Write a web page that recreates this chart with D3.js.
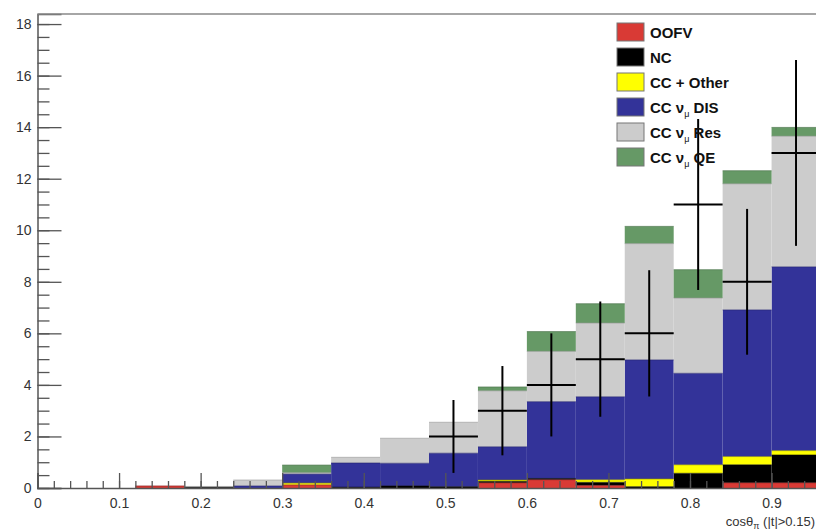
<!DOCTYPE html>
<html>
<head>
<meta charset="utf-8">
<script src="https://cdn.jsdelivr.net/npm/d3@7"></script>
<style>
  html, body { margin: 0; padding: 0; background: #fff; }
  svg { display: block; font-family: "Liberation Sans", Arial, sans-serif; }
</style>
</head>
<body>
<svg id="chart" width="816" height="531"></svg>
<script>
// ---- data (bins of width 0.06 from 0 to 0.96) ----
const binEdges = [0,0.06,0.12,0.18,0.24,0.30,0.36,0.42,0.48,0.54,0.60,0.66,0.72,0.78,0.84,0.90,0.96];
const oofv  = [0,0,0.08,0,0,0.12,0,0,0,0.2,0.32,0.1,0,0,0.2,0.2];
const nc    = [0,0,0,0.03,0,0,0.03,0.08,0.05,0.06,0.05,0.12,0.05,0.57,0.7,1.08];
const ccOther = [0,0,0,0,0,0.07,0,0,0,0.05,0,0.1,0.3,0.33,0.32,0.17];
const ccDIS = [0,0,0,0,0.08,0.35,0.94,0.88,1.3,1.29,2.98,3.22,4.62,3.55,5.69,7.13];
const ccRes = [0,0,0,0.03,0.23,0.05,0.22,0.97,1.2,2.17,1.95,2.86,4.51,2.92,4.89,5.07];
const ccQE  = [0,0,0,0,0,0.3,0,0,0,0.15,0.77,0.75,0.67,1.1,0.51,0.34];
const dataCounts = [0,0,0,0,0,0,0,0,2,3,4,5,6,11,8,13];
const xTickValues = [0,0.1,0.2,0.3,0.4,0.5,0.6,0.7,0.8,0.9];
const yTickValues = [0,2,4,6,8,10,12,14,16,18];
const seriesNames = ["OOFV","NC","CC + Other","CC \u03bd_\u03bc DIS","CC \u03bd_\u03bc Res","CC \u03bd_\u03bc QE"];
const seriesColors = ["#d93a35","#000000","#ffff00","#333399","#cccccc","#669966"];
const seriesStroke = ["#8a2020","#000000","#8a8a00","#25256e","#999999","#4a714a"];

const series = [oofv, nc, ccOther, ccDIS, ccRes, ccQE];

const svg = d3.select("#chart");
const x = d3.scaleLinear().domain([0, 0.96]).range([37.5, 820.5]);
const y = d3.scaleLinear().domain([0, 18.39]).range([488, 14]);

// stacked bars
const bins = d3.range(binEdges.length - 1).map(i => {
  const o = {lo: binEdges[i], hi: binEdges[i+1]};
  series.forEach((s, k) => o["s" + k] = s[i]);
  return o;
});
const stack = d3.stack().keys(series.map((s,k) => "s"+k));
const layers = stack(bins);

const gBars = svg.append("g");
layers.forEach((layer, k) => {
  gBars.selectAll(null).data(layer.filter(d => d[1] - d[0] > 0)).enter()
    .append("rect")
    .attr("x", d => x(d.data.lo))
    .attr("width", d => x(d.data.hi) - x(d.data.lo))
    .attr("y", d => y(d[1]))
    .attr("height", d => y(d[0]) - y(d[1]))
    .attr("fill", seriesColors[k]);
});
// outlines: top steps of each cumulative histogram
layers.forEach((layer, k) => {
  const line = [];
  layer.forEach(d => { if (d[1] - d[0] > 0) {
    gBars.append("line")
      .attr("x1", x(d.data.lo)).attr("x2", x(d.data.hi))
      .attr("y1", y(d[1])).attr("y2", y(d[1]))
      .attr("stroke", seriesStroke[k]).attr("stroke-width", 1).attr("opacity", 0.6);
  }});
});

// axes
const axisColor = "#555";
const xMinor = d3.range(0, 0.961, 0.02);
const yMinor = d3.range(0, 18.01, 0.5);

const gx = svg.append("g").attr("transform", "translate(0,488)");
gx.call(d3.axisBottom(x).tickValues(xMinor).tickSize(-7).tickFormat(""));
gx.call(g => g.select(".domain").remove());
const gx2 = svg.append("g").attr("transform", "translate(0,488)");
gx2.call(d3.axisBottom(x).tickValues(xTickValues).tickSize(-15).tickPadding(10)
  .tickFormat(d => d === 0 ? "0" : d3.format(".1f")(d)));
[gx, gx2].forEach(g => {
  g.selectAll("line").attr("stroke", axisColor).attr("stroke-width", 1.3);
  g.selectAll(".domain").attr("stroke", axisColor).attr("stroke-width", 1.5);
  g.selectAll("text").attr("fill", "#333").attr("font-size", 14).attr("font-family", "Liberation Sans, Arial, sans-serif");
});

const gy = svg.append("g").attr("transform", "translate(37.5,0)");
gy.call(d3.axisLeft(y).tickValues(yMinor).tickSize(-12).tickFormat(""));
gy.call(g => g.select(".domain").remove());
const gy2 = svg.append("g").attr("transform", "translate(37.5,0)");
gy2.call(d3.axisLeft(y).tickValues(yTickValues).tickSize(-24).tickPadding(6));
[gy, gy2].forEach(g => {
  g.selectAll("line").attr("stroke", axisColor).attr("stroke-width", 1.3);
  g.selectAll(".domain").attr("stroke", axisColor).attr("stroke-width", 1.5);
  g.selectAll("text").attr("fill", "#333").attr("font-size", 14).attr("font-family", "Liberation Sans, Arial, sans-serif");
});

// frame top
svg.append("line").attr("x1", 37.5).attr("x2", 816).attr("y1", y(18.39)).attr("y2", y(18.39))
  .attr("stroke", "#888").attr("stroke-width", 1.5);

// data points with sqrt(N) errors
const gData = svg.append("g");
bins.forEach((b, i) => {
  const n = dataCounts[i];
  if (!n) return;
  const cx = x((b.lo + b.hi) / 2);
  const e = Math.sqrt(n);
  gData.append("line").attr("x1", x(b.lo)).attr("x2", x(b.hi)).attr("y1", y(n)).attr("y2", y(n))
    .attr("stroke", "#000").attr("stroke-width", 2);
  gData.append("line").attr("x1", cx).attr("x2", cx).attr("y1", y(n + e)).attr("y2", y(n - e))
    .attr("stroke", "#000").attr("stroke-width", 2);
});

// x axis title
const xt = svg.append("text").attr("x", 815).attr("y", 526).attr("text-anchor", "end")
  .attr("font-size", 13).attr("fill", "#333");
xt.append("tspan").text("cos\u03b8");
xt.append("tspan").attr("font-size", 9).attr("dy", 3).text("\u03c0");
xt.append("tspan").attr("dy", -3).text(" (|t|>0.15)");

// legend
const lg = svg.append("g").attr("transform", "translate(617,23)");
seriesNames.forEach((name, k) => {
  const row = lg.append("g").attr("transform", `translate(0,${k * 25})`);
  row.append("rect").attr("x", 0).attr("y", 0).attr("width", 27).attr("height", 18)
    .attr("fill", seriesColors[k]).attr("stroke", "#777").attr("stroke-width", 1);
  const t = row.append("text").attr("x", 33).attr("y", 15).attr("font-size", 15)
    .attr("font-weight", "bold").attr("fill", "#111");
  const parts = name.split("_");
  if (parts.length === 1) {
    t.text(name);
  } else {
    const sub = parts[1].charAt(0);
    t.append("tspan").text(parts[0]);
    t.append("tspan").attr("font-size", 9).attr("dy", 4).attr("font-weight", "normal").text(sub);
    t.append("tspan").attr("dy", -4).text(parts[1].slice(1));
  }
});
</script>
</body>
</html>
